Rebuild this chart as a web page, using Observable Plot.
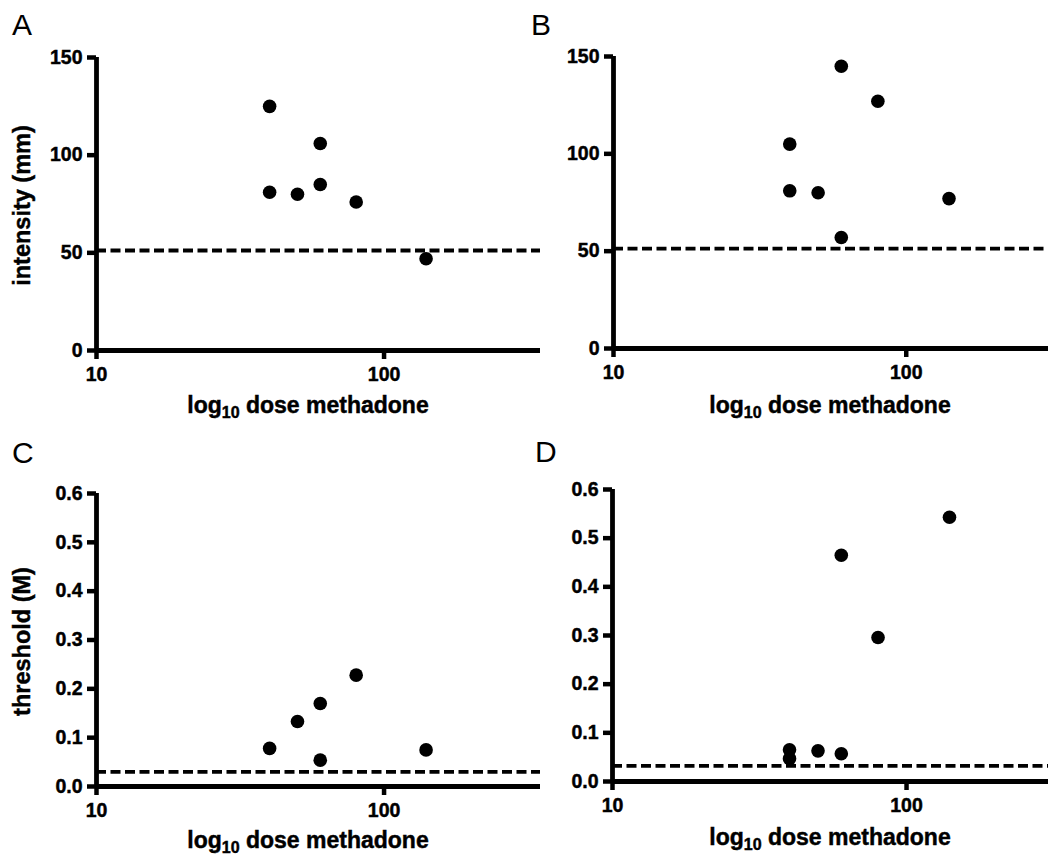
<!DOCTYPE html>
<html><head><meta charset="utf-8">
<script src="https://cdn.jsdelivr.net/npm/d3@7"></script>
<script src="https://cdn.jsdelivr.net/npm/@observablehq/plot@0.6"></script>
<style>
html,body{margin:0;padding:0;background:#fff;overflow:hidden;}
#fig{position:relative;width:1048px;height:855px;overflow:hidden;background:#fff;}
.panel{position:absolute;}
.panel text{stroke:#000;stroke-width:0.45px;}
.panel g[aria-label="y-axis tick label"], .panel g[aria-label="x-axis tick label"]{font-size:19.5px !important;font-weight:bold !important;}
.plabel{position:absolute;font-family:"Liberation Sans Narrow","Liberation Sans",sans-serif;font-size:30px;line-height:1;color:#000;}
</style></head><body><div id="fig"></div>
<script>
// ---- data ----
const doseA = [40, 40, 50, 60, 60, 80, 140];
const intensityA = [125, 81, 80, 106, 85, 76, 47];
const doseB = [40, 40, 50, 60, 60, 80, 140];
const intensityB = [105, 81, 80, 145, 57, 127, 77];
const doseC = [40, 50, 60, 60, 80, 140];
const thresholdC = [0.078, 0.133, 0.17, 0.054, 0.228, 0.075];
const doseD = [40, 40, 50, 60, 60, 80, 140];
const thresholdD = [0.065, 0.047, 0.063, 0.057, 0.465, 0.296, 0.543];
const baselineIntensity = [51.2, 51.3];
const baselineThreshold = [0.030, 0.032];
const xTicks = [10, 100];
const intensityTicks = [0, 50, 100, 150];
const thresholdTicks = [0, 0.1, 0.2, 0.3, 0.4, 0.5, 0.6];
const panelLabels = ["A", "B", "C", "D"];
const yTitles = ["intensity (mm)", "threshold (M)"];
const xTitle = ["log", "10", " dose methadone"];

const FONT = "'Liberation Sans', Arial, Helvetica, sans-serif";
const fig = document.getElementById("fig");

function panel(cfg) {
  const data = cfg.xs.map((x, i) => ({dose: x, value: cfg.ys[i]}));
  const svg = Plot.plot({
    width: cfg.width, height: cfg.height,
    marginLeft: cfg.mL, marginRight: cfg.mR, marginTop: cfg.mT, marginBottom: cfg.mB,
    style: {fontFamily: FONT, fontSize: "19.5px", fontWeight: "bold", color: "#000", background: "transparent", overflow: "visible"},
    x: {type: "log", domain: [10, 350]},
    y: {domain: cfg.yDomain},
    marks: [
      Plot.ruleY([cfg.baseline], {stroke: "#000", strokeWidth: 3.8, strokeDasharray: "10,4.5"}),
      Plot.axisY(cfg.yTicks, {tickSize: 9, tickPadding: 5, stroke: "#000", strokeWidth: 4.5, strokeOpacity: 1, fontSize: 19.5, fontWeight: "bold", tickFormat: cfg.yFmt, label: null}),
      Plot.axisX(xTicks, {tickSize: 9, tickPadding: 8, stroke: "#000", strokeWidth: 4.5, strokeOpacity: 1, fontSize: 19.5, fontWeight: "bold", tickFormat: d3.format("d"), label: null}),
      Plot.ruleX([10], {stroke: "#000", strokeWidth: 4.8}),
      Plot.ruleY([cfg.yDomain[0]], {stroke: "#000", strokeWidth: 4.8}),
      Plot.dot(data, {x: "dose", y: "value", r: 6.8, fill: "#000", stroke: "none"})
    ]
  });
  const s = d3.select(svg);
  const t = s.append("text")
    .attr("x", cfg.titleX).attr("y", cfg.titleY)
    .attr("text-anchor", "middle")
    .attr("font-family", FONT).attr("font-weight", "bold").attr("font-size", 23).attr("fill", "#000");
  t.append("tspan").text(xTitle[0]);
  t.append("tspan").attr("font-size", 16).attr("dy", 5).text(xTitle[1]);
  t.append("tspan").attr("dy", -5).text(xTitle[2]);
  if (cfg.yTitle) {
    s.append("text")
      .attr("transform", `translate(${cfg.yTitleX},${cfg.mT + (cfg.height - cfg.mT - cfg.mB) / 2 + 2}) rotate(-90)`)
      .attr("text-anchor", "middle")
      .attr("font-family", FONT).attr("font-weight", "bold").attr("font-size", 23.5).attr("fill", "#000")
      .text(cfg.yTitle);
  }
  svg.classList.add("panel");
  svg.style.left = cfg.left + "px";
  svg.style.top = cfg.top + "px";
  fig.appendChild(svg);

  const lab = document.createElement("div");
  lab.className = "plabel";
  lab.textContent = cfg.label;
  lab.style.left = (cfg.left + cfg.labelX) + "px";
  lab.style.top = (cfg.top + cfg.labelY) + "px";
  fig.appendChild(lab);
}

panel({left: 0, top: 0, width: 560, height: 430, mL: 96, mR: 20, mT: 57, mB: 80,
  xs: doseA, ys: intensityA, baseline: baselineIntensity[0], yDomain: [0, 150], yTicks: intensityTicks,
  yFmt: d3.format("d"), yTitle: yTitles[0], yTitleX: 30, titleX: 308, titleY: 413,
  label: panelLabels[0], labelX: 12, labelY: 10});
panel({left: 520, top: 0, width: 565, height: 430, mL: 93, mR: 20, mT: 56, mB: 82,
  xs: doseB, ys: intensityB, baseline: baselineIntensity[1], yDomain: [0, 150], yTicks: intensityTicks,
  yFmt: d3.format("d"), yTitle: null, titleX: 310, titleY: 413,
  label: panelLabels[1], labelX: 11, labelY: 10});
panel({left: 0, top: 430, width: 560, height: 425, mL: 96, mR: 20, mT: 63, mB: 69,
  xs: doseC, ys: thresholdC, baseline: baselineThreshold[0], yDomain: [0, 0.6], yTicks: thresholdTicks,
  yFmt: d3.format(".1f"), yTitle: yTitles[1], yTitleX: 30, titleX: 308, titleY: 418,
  label: panelLabels[2], labelX: 12, labelY: 8});
panel({left: 520, top: 430, width: 566, height: 425, mL: 92, mR: 20, mT: 59, mB: 74,
  xs: doseD, ys: thresholdD, baseline: baselineThreshold[1], yDomain: [0, 0.6], yTicks: thresholdTicks,
  yFmt: d3.format(".1f"), yTitle: null, titleX: 310, titleY: 415,
  label: panelLabels[3], labelX: 15, labelY: 7});
</script></body></html>
